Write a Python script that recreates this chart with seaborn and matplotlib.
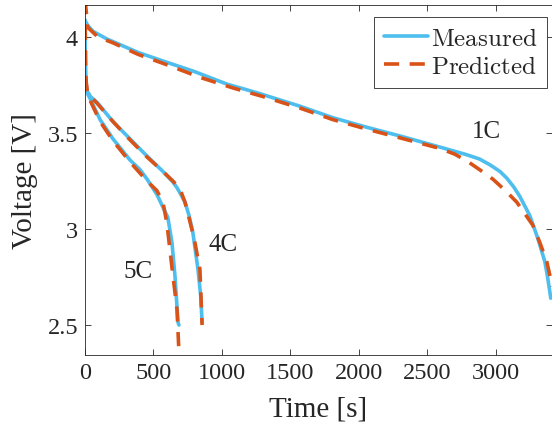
import matplotlib
matplotlib.use("Agg")
import matplotlib.pyplot as plt
import numpy as np
import pandas as pd
import seaborn as sns

# ── Data ────────────────────────────────────────────────────────────────────
t_1c_meas = [0, 5, 20, 58, 160, 387, 550, 800, 1036, 1255, 1569, 1810, 2058,
             2299, 2591, 2774, 2880, 2956, 3030, 3080, 3130, 3175, 3248, 3307,
             3358, 3380, 3401]
v_1c_meas = [4.09, 4.08, 4.06, 4.03, 3.99, 3.92, 3.88, 3.82, 3.755, 3.71, 3.64,
             3.58, 3.53, 3.485, 3.427, 3.39, 3.365, 3.335, 3.30, 3.265, 3.22,
             3.17, 3.07, 2.95, 2.83, 2.74, 2.64]
t_1c_pred = [0, 20, 95, 204, 387, 620, 840, 1080, 1300, 1570, 1810, 2060, 2300,
             2591, 2700, 2788, 2880, 2978, 3070, 3153, 3270, 3321, 3372, 3394, 3410]
v_1c_pred = [4.20, 4.05, 4.00, 3.97, 3.91, 3.85, 3.79, 3.735, 3.69, 3.63, 3.57,
             3.52, 3.475, 3.42, 3.39, 3.355, 3.31, 3.26, 3.20, 3.14, 3.02, 2.93,
             2.83, 2.76, 2.70]

t_4c_meas = [0, 2, 6, 15, 40, 88, 204, 328, 453, 569, 642, 672, 700, 730, 760,
             788, 825, 845, 855]
v_4c_meas = [4.08, 3.88, 3.76, 3.72, 3.69, 3.66, 3.56, 3.47, 3.38, 3.30, 3.245,
             3.215, 3.18, 3.14, 3.07, 2.98, 2.79, 2.65, 2.515]
t_4c_pred = [0, 4, 15, 40, 88, 204, 328, 453, 569, 642, 693, 730, 766, 800,
             839, 855]
v_4c_pred = [4.20, 3.80, 3.72, 3.69, 3.655, 3.56, 3.465, 3.375, 3.30, 3.25,
             3.21, 3.14, 3.04, 2.94, 2.79, 2.50]

t_5c_meas = [0, 2, 6, 15, 37, 110, 204, 328, 401, 453, 525, 565, 605, 635, 657,
             679, 686]
v_5c_meas = [4.08, 3.88, 3.76, 3.71, 3.68, 3.57, 3.47, 3.36, 3.31, 3.26, 3.18,
             3.12, 3.06, 2.93, 2.755, 2.515, 2.50]
t_5c_pred = [0, 4, 15, 37, 110, 204, 328, 453, 525, 569, 598, 635, 672, 684]
v_5c_pred = [4.20, 3.80, 3.71, 3.67, 3.56, 3.46, 3.35, 3.25, 3.20, 3.14, 3.03,
             2.80, 2.58, 2.39]

curve_labels = ["1C", "4C", "5C"]
label_t = [2934, 1007, 387]
label_v = [3.51, 2.92, 2.78]

x_ticks = [0, 500, 1000, 1500, 2000, 2500, 3000]
y_ticks = [2.5, 3, 3.5, 4]
y_tick_labels = ["2.5", "3", "3.5", "4"]

BLUE = "#4DBEEE"
ORANGE = "#D95319"

sns.set_theme(style="ticks")
plt.rcParams.update({
    "font.family": ["Liberation Serif", "DejaVu Serif"],
    "mathtext.fontset": "cm",
    "axes.edgecolor": "#262626",
    "axes.linewidth": 0.6,
    "xtick.color": "#262626",
    "ytick.color": "#262626",
    "xtick.direction": "in",
    "ytick.direction": "in",
    "xtick.top": True,
    "ytick.right": True,
})

fig = plt.figure(figsize=(5.52, 4.31), dpi=100)
ax = fig.add_axes([85 / 552, 75 / 431, 467 / 552, 350 / 431])

meas = [(t_1c_meas, v_1c_meas), (t_4c_meas, v_4c_meas), (t_5c_meas, v_5c_meas)]
pred = [(t_1c_pred, v_1c_pred), (t_4c_pred, v_4c_pred), (t_5c_pred, v_5c_pred)]

for i, (t, v) in enumerate(meas):
    sns.lineplot(x=t, y=v, ax=ax, color=BLUE, lw=2.6, sort=False, estimator=None,
                 label=r"$\mathrm{Measured}$" if i == 0 else None)
for i, (t, v) in enumerate(pred):
    sns.lineplot(x=t, y=v, ax=ax, color=ORANGE, lw=2.6, sort=False, estimator=None,
                 label=r"$\mathrm{Predicted}$" if i == 0 else None)
for line in ax.get_lines()[3:6]:
    line.set_dashes((4.2, 2.9))

for lab, tx, vy in zip(curve_labels, label_t, label_v):
    ax.text(tx, vy, lab, fontsize=18, ha="center", va="center")

ax.set_xlim(0, 3410)
ax.set_ylim(2.344, 4.167)
ax.set_xticks(x_ticks)
ax.set_xticklabels([str(x) for x in x_ticks])
ax.set_yticks(y_ticks)
ax.set_yticklabels(y_tick_labels)
ax.tick_params(labelsize=17.5, length=4, width=0.6, pad=5)
ax.set_xlabel("Time [s]", fontsize=21, labelpad=9)
ax.set_ylabel("Voltage [V]", fontsize=21, labelpad=7)
for s in ax.spines.values():
    s.set_visible(True)

leg = ax.legend(loc="upper right", bbox_to_anchor=(1 - 5 / 467, 1 - 12 / 350),
                borderaxespad=0, fontsize=18, handlelength=1.75, handletextpad=0.1,
                borderpad=0.4, labelspacing=0.22, fancybox=False, framealpha=1,
                edgecolor="#262626")
leg.get_frame().set_linewidth(0.6)

fig.savefig("out.png", dpi=100)
